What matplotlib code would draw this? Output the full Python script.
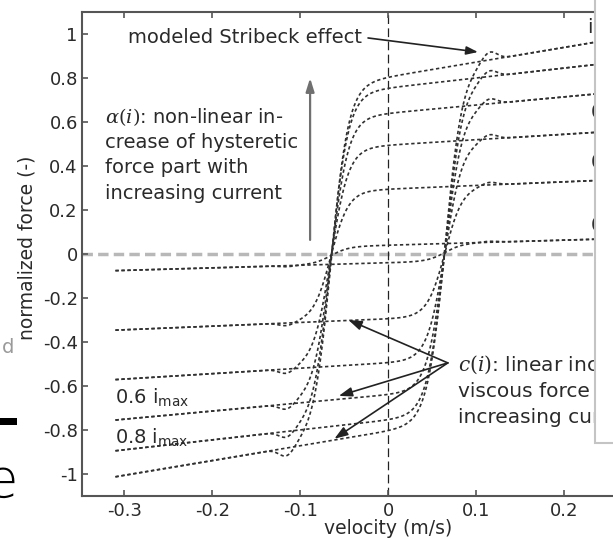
import numpy as np
import matplotlib
matplotlib.use("Agg")
import matplotlib.pyplot as plt
from matplotlib.patches import Rectangle

# Current levels (fraction of i_max) and the fitted model parameters per level
current_levels = [0.0, 0.2, 0.4, 0.6, 0.8, 1.0]
alpha_hyst = [0.04, 0.295, 0.495, 0.64, 0.755, 0.805]   # hysteretic force part alpha(i)
c_viscous = [0.115, 0.165, 0.245, 0.37, 0.45, 0.67]     # viscous slope c(i)
stribeck_amp = [0.005, 0.015, 0.025, 0.03, 0.035, 0.045]

v_switch = 0.065      # zero crossing of the hysteretic branches (m/s)
v_width = 0.02        # transition width (m/s)
v_stribeck = 0.115    # position of the Stribeck overshoot (m/s)
w_stribeck = 0.012
v_min, v_max = -0.31, 0.31

xticks = [-0.3, -0.2, -0.1, 0.0, 0.1, 0.2, 0.3]
xtick_labels = ["-0.3", "-0.2", "-0.1", "0", "0.1", "0.2", "0.3"]
yticks = [-1.0, -0.8, -0.6, -0.4, -0.2, 0.0, 0.2, 0.4, 0.6, 0.8, 1.0]
ytick_labels = ["-1", "-0.8", "-0.6", "-0.4", "-0.2", "0", "0.2", "0.4", "0.6", "0.8", "1"]

plt.rcParams["font.family"] = ["DejaVu Sans"]
plt.rcParams["axes.unicode_minus"] = False
plt.rcParams["mathtext.fontset"] = "dejavuserif"

W, H = 613, 539
fig = plt.figure(figsize=(W / 100, H / 100), dpi=100)


def fx(px):
    return px / W


def fy(py):
    return 1 - py / H


# axes: x from -0.348 (px 82) to 0.348 (beyond the right edge), y from -1.1 to 1.1
ax = fig.add_axes([fx(82), fy(496), 612 / W, 484 / H])
ax.set_xlim(-0.348, 0.348)
ax.set_ylim(-1.1, 1.1)

TXT = "#2a2a2a"
SP = "#555555"

for side in ["left", "bottom", "top", "right"]:
    ax.spines[side].set_color(SP)
    ax.spines[side].set_linewidth(1.5)

ax.set_xticks(xticks)
ax.set_xticklabels(xtick_labels)
ax.set_yticks(yticks)
ax.set_yticklabels(ytick_labels)
ax.tick_params(direction="in", length=4, width=1.2, color=SP, labelsize=13,
               labelcolor=TXT, top=True, right=True, pad=3)
ax.tick_params(axis="x", pad=4)

# reference lines
ax.axhline(0, color="#b8b8b8", lw=2.5, ls=(0, (3, 1.5)), zorder=1)
ax.axvline(0, color="#222222", lw=0.9, ls=(0, (7, 3.5)), zorder=1)

# hysteresis loops: accelerating branch and decelerating branch for each current
v = np.linspace(v_min, v_max, 700)
for a, c, s in zip(alpha_hyst, c_viscous, stribeck_amp):
    rising = (c * v + a * np.tanh((v - v_switch) / v_width)
              + s * np.exp(-((v - v_stribeck) / w_stribeck) ** 2))
    falling = (c * v + a * np.tanh((v + v_switch) / v_width)
               - s * np.exp(-((v + v_stribeck) / w_stribeck) ** 2))
    for branch in (rising, falling):
        ax.plot(v, branch, color="#303030", lw=1.2, ls=(0, (2.0, 1.6)), zorder=3)

# annotations
ax.text(-0.2955, 0.986, "modeled Stribeck effect", fontsize=14, color=TXT,
        ha="left", va="center")
ax.annotate("", xy=(0.1023, 0.918), xytext=(-0.0227, 0.982),
            arrowprops=dict(arrowstyle="-|>,head_length=0.7,head_width=0.25",
                            color="#222222", lw=1.2, shrinkA=0, shrinkB=0))

alpha_lines = [r"$\alpha(i)$: non-linear in-", "crease of hysteretic",
               "force part with", "increasing current"]
for k, line in enumerate(alpha_lines):
    ax.text(-0.3216, 0.623 - k * 0.1155, line, fontsize=14, color=TXT,
            ha="left", va="center")

ax.annotate("", xy=(-0.0886, 0.80), xytext=(-0.0886, 0.064),
            arrowprops=dict(arrowstyle="-|>,head_length=0.8,head_width=0.25",
                            color="#707070", lw=1.6, shrinkA=0, shrinkB=0))

c_lines = [r"$c(i)$: linear increase of", "viscous force with",
           "increasing current"]
for k, line in enumerate(c_lines):
    ax.text(0.0795, -0.5045 - k * 0.1185, line, fontsize=14.5, color=TXT,
            ha="left", va="center")

c_src = (0.068, -0.495)
for tgt in [(-0.045, -0.30), (-0.056, -0.645), (-0.061, -0.84)]:
    ax.annotate("", xy=tgt, xytext=c_src,
                arrowprops=dict(arrowstyle="-|>,head_length=0.8,head_width=0.28",
                                color="#222222", lw=1.2, shrinkA=0, shrinkB=0))

# current level labels
ax.text(-0.31, -0.65, r"0.6 i$_\mathregular{max}$", fontsize=14, color=TXT,
        ha="left", va="center")
ax.text(-0.31, -0.832, r"0.8 i$_\mathregular{max}$", fontsize=14, color=TXT,
        ha="left", va="center")
ax.text(0.226, 1.03, r"i$_\mathregular{max}$", fontsize=14, color=TXT,
        ha="left", va="center")
ax.text(0.2295, 0.645, r"0.4 i$_\mathregular{max}$", fontsize=14, color=TXT,
        ha="left", va="center")
ax.text(0.2295, 0.418, r"0.2 i$_\mathregular{max}$", fontsize=14, color=TXT,
        ha="left", va="center")
ax.text(0.2295, 0.132, r"0 i$_\mathregular{max}$", fontsize=14, color=TXT,
        ha="left", va="center")

# axis labels
fig.text(fx(388), fy(529), "velocity (m/s)", fontsize=13.5, color=TXT,
         ha="center", va="center")
fig.text(fx(27), fy(248), "normalized force (-)", fontsize=13.5, color=TXT,
         ha="center", va="center", rotation=90)

# neighbouring panel overlapping the right side
fig.add_artist(Rectangle((fx(595), fy(443)), 1 - fx(595) + 0.01, 443 / H + 0.01,
                         transform=fig.transFigure, facecolor="white",
                         edgecolor="#c4c4c4", lw=1.5, zorder=10))

# fragments of the neighbouring page content on the left
fig.text(fx(2), fy(353), "d", fontsize=14, color="#9a9a9a", ha="left",
         va="baseline", zorder=11)
fig.add_artist(Rectangle((0, fy(425)), fx(17), 7 / H, transform=fig.transFigure,
                         facecolor="black", edgecolor="none", zorder=11))
fig.text(fx(18), fy(497), "e", fontsize=38, color="black", ha="right",
         va="baseline", zorder=11, fontweight="light")

fig.savefig("out.png", dpi=100)
